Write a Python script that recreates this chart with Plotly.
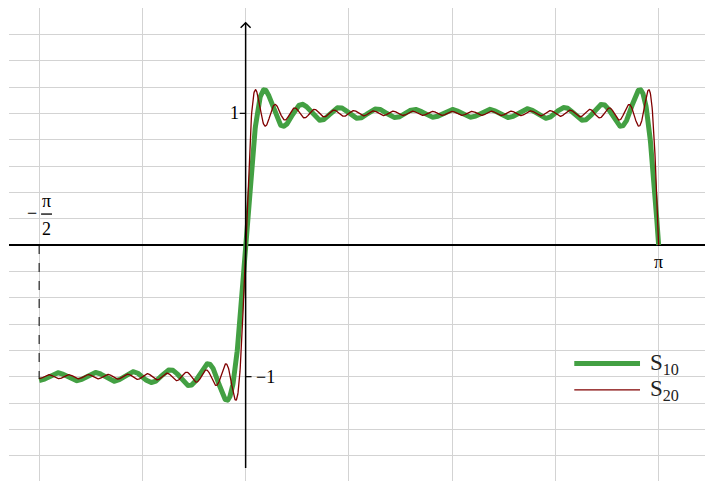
import numpy as np
import plotly.graph_objects as go

# ---- data: Fourier partial sums S_N = (4/pi) * sum_{k=0..N} sin((2k+1)x)/(2k+1) ----
series_names = ["S10", "S20"]
series_N = [10, 20]                # upper index N of each partial sum
series_colors = ["#43a043", "#800000"]
series_widths = [5, 1.3]
x_start, x_end = -np.pi / 2, np.pi
y_tick_vals = [1, -1]
y_tick_text = ["1", "\u22121"]

x = np.linspace(x_start, x_end, 2000)

def partial_sum(xv, N):
    harm = 2 * np.arange(0, N + 1) + 1
    amp = 4 / (np.pi * harm)
    return (amp[:, None] * np.sin(harm[:, None] * xv[None, :])).sum(axis=0)

fig = go.Figure()
for name, n, c, w in zip(series_names, series_N, series_colors, series_widths):
    fig.add_trace(go.Scatter(x=x, y=partial_sum(x, n), mode="lines", name=name,
                             line=dict(color=c, width=w), showlegend=False))

font = "Liberation Serif"
fs = 18
ann = []
shapes = []
# y-axis line with arrow
shapes.append(dict(type="line", x0=0, x1=0, y0=-1.694, y1=1.688, line=dict(color="black", width=1.5)))
shapes.append(dict(type="path", path="M -0.038,1.65 L 0,1.688 L 0.038,1.65", line=dict(color="black", width=1.5)))
# y ticks
shapes.append(dict(type="line", x0=-0.045, x1=0, y0=1, y1=1, line=dict(color="black", width=1.2)))
shapes.append(dict(type="line", x0=0, x1=0.045, y0=-1, y1=-1, line=dict(color="black", width=1.2)))
ann.append(dict(x=0, y=y_tick_vals[0], text=y_tick_text[0], showarrow=False, xanchor="right", xshift=-5,
                font=dict(family=font, size=fs, color="black")))
ann.append(dict(x=0, y=y_tick_vals[1], text=y_tick_text[1], showarrow=False, xanchor="left", xshift=8,
                font=dict(family=font, size=fs, color="black")))
# pi label
ann.append(dict(x=np.pi, y=0, text="\u03c0", showarrow=False, yanchor="top", yshift=-5,
                font=dict(family=font, size=fs, color="black")))
# -pi/2 label as fraction
ann.append(dict(x=-1.514, y=0.335, text="\u03c0", showarrow=False,
                font=dict(family=font, size=fs, color="black")))
ann.append(dict(x=-1.514, y=0.125, text="2", showarrow=False,
                font=dict(family=font, size=fs, color="black")))
ann.append(dict(x=-1.625, y=0.24, text="\u2212", showarrow=False,
                font=dict(family=font, size=fs, color="black")))
shapes.append(dict(type="line", x0=-1.556, x1=-1.473, y0=0.235, y1=0.235, line=dict(color="black", width=1.3)))
# dashed drop line at -pi/2
y_end = partial_sum(np.array([x_start]), series_N[1])[0]
shapes.append(dict(type="line", x0=x_start, x1=x_start, y0=0, y1=y_end,
                   line=dict(color="black", width=1, dash="dash")))
# manual legend
leg_y = [-0.9, -1.1]
for name, c, w, ly in zip(series_names, series_colors, series_widths, leg_y):
    shapes.append(dict(type="line", x0=2.5, x1=3.0, y0=ly, y1=ly, line=dict(color=c, width=w)))
    ann.append(dict(x=3.06, y=ly, text="S<sub>" + name[1:] + "</sub>", showarrow=False, xanchor="left",
                    font=dict(family=font, size=23, color="#222")))

fig.update_layout(
    width=713, height=481,
    margin=dict(l=1, r=0, t=0, b=0),
    plot_bgcolor="white", paper_bgcolor="white",
    shapes=shapes, annotations=ann,
    xaxis=dict(range=[-1.8, -1.8 + 712 / 131.46], showgrid=True, gridcolor="#d3d3d3", gridwidth=1.3,
               tick0=0, dtick=np.pi / 4, showticklabels=False, ticks="", zeroline=False,
               showline=False),
    yaxis=dict(range=[1.8 - 481 / 131.67, 1.8], showgrid=True, gridcolor="#d3d3d3", gridwidth=1.3,
               tick0=0, dtick=0.2, showticklabels=False, ticks="", zeroline=True,
               zerolinecolor="black", zerolinewidth=1.8, showline=False),
)
fig.write_html("out.html")
